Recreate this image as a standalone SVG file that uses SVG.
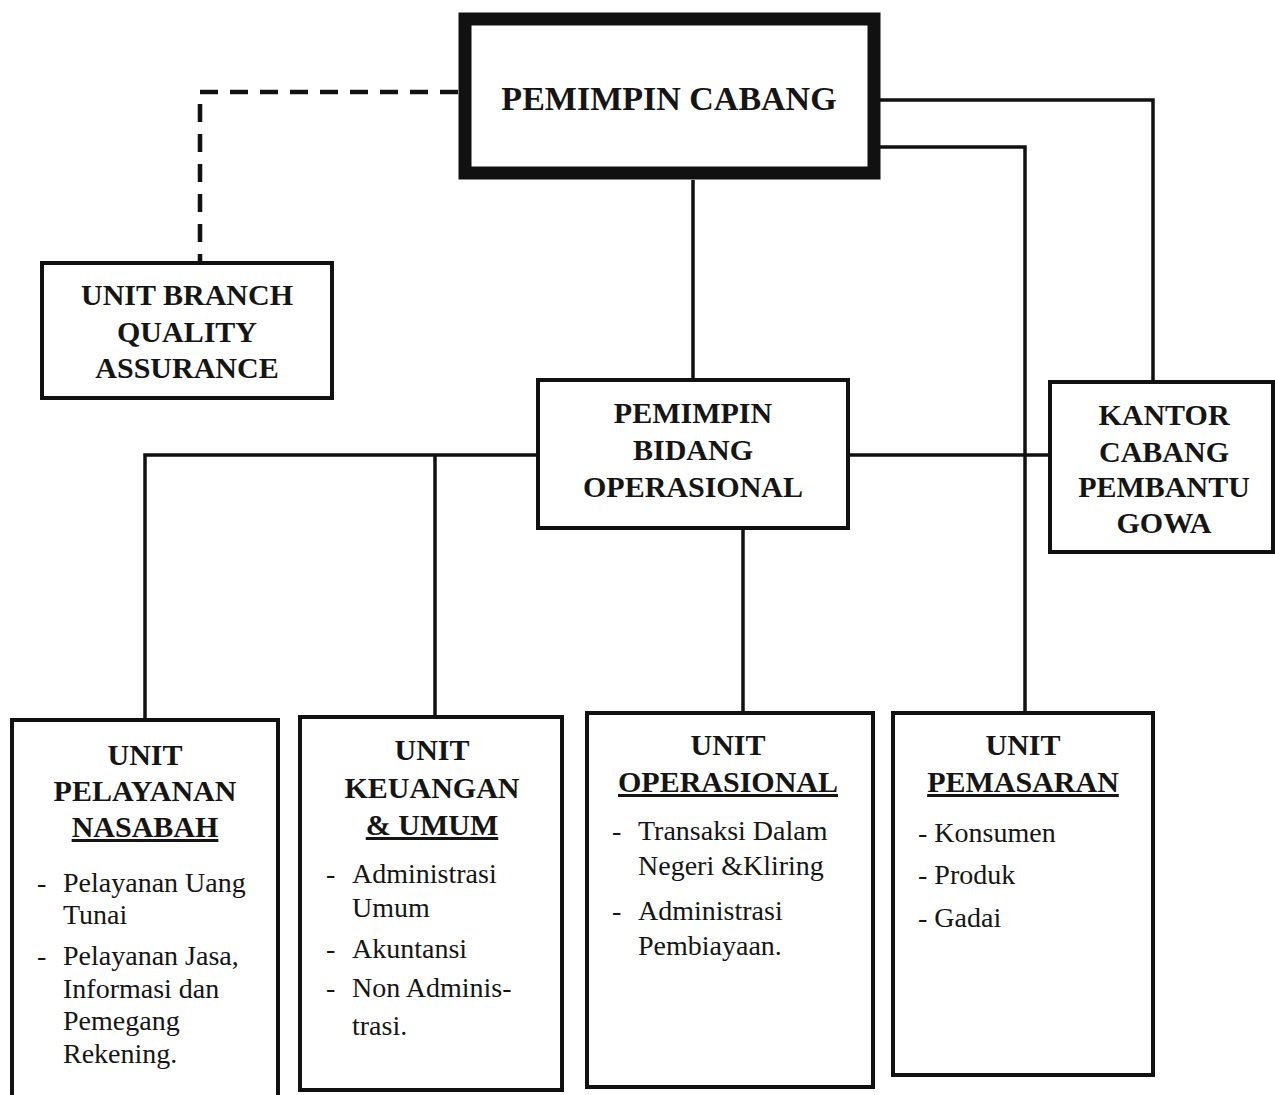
<svg xmlns="http://www.w3.org/2000/svg" width="1275" height="1095" viewBox="0 0 1275 1095">
<style>
.box{fill:#fff;stroke:#111;stroke-width:4}
.main{fill:#fff;stroke:#111;stroke-width:13}
.ln{fill:none;stroke:#111;stroke-width:3.5}
.dash{fill:none;stroke:#111;stroke-width:4.5;stroke-dasharray:18 12}
.t{font-family:"Liberation Serif","Times New Roman",serif;font-weight:bold;fill:#151515;text-anchor:middle;font-size:30px}
.big{font-size:34px}
.b{font-family:"Liberation Serif","Times New Roman",serif;fill:#151515;font-size:28px}
.u{text-decoration:underline}
</style>
<rect width="1275" height="1095" fill="#fff"/>
<g id="connectors">
<path class="dash" d="M458 92 H200 V262"/>
<path class="ln" d="M693 180 V380"/>
<path class="ln" d="M880 100 H1153 V382"/>
<path class="ln" d="M880 147 H1025 V713"/>
<path class="ln" d="M538 455 H145 V720"/>
<path class="ln" d="M435 455 V717"/>
<path class="ln" d="M848 455 H1050"/>
<path class="ln" d="M743 528 V713"/>
</g>
<g id="pemimpin-cabang">
<rect class="main" x="465" y="19" width="409" height="154"/>
<text class="t big" x="669" y="110">PEMIMPIN CABANG</text>
</g>
<g id="unit-branch-qa">
<rect class="box" x="42" y="263" width="290" height="135"/>
<text class="t" x="187" y="305">UNIT BRANCH</text>
<text class="t" x="187" y="342">QUALITY</text>
<text class="t" x="187" y="378">ASSURANCE</text>
</g>
<g id="pemimpin-bidang-operasional">
<rect class="box" x="538" y="380" width="310" height="148"/>
<text class="t" x="693" y="423">PEMIMPIN</text>
<text class="t" x="693" y="460">BIDANG</text>
<text class="t" x="693" y="497">OPERASIONAL</text>
</g>
<g id="kantor-cabang-pembantu">
<rect class="box" x="1050" y="382" width="223" height="170"/>
<text class="t" x="1164" y="425">KANTOR</text>
<text class="t" x="1164" y="462">CABANG</text>
<text class="t" x="1164" y="497">PEMBANTU</text>
<text class="t" x="1164" y="533">GOWA</text>
</g>
<g id="unit-pelayanan-nasabah">
<rect class="box" x="12" y="720" width="266" height="390"/>
<text class="t" x="145" y="765">UNIT</text>
<text class="t" x="145" y="801">PELAYANAN</text>
<text class="t u" x="145" y="837">NASABAH</text>
<text class="b" x="37" y="892">-</text>
<text class="b" x="63" y="892">Pelayanan Uang</text>
<text class="b" x="63" y="924">Tunai</text>
<text class="b" x="37" y="965">-</text>
<text class="b" x="63" y="965">Pelayanan Jasa,</text>
<text class="b" x="63" y="998">Informasi dan</text>
<text class="b" x="63" y="1030">Pemegang</text>
<text class="b" x="63" y="1063">Rekening.</text>
</g>
<g id="unit-keuangan-umum">
<rect class="box" x="300" y="717" width="262" height="373"/>
<text class="t" x="432" y="760">UNIT</text>
<text class="t" x="432" y="798">KEUANGAN</text>
<text class="t u" x="432" y="835">&amp; UMUM</text>
<text class="b" x="326" y="883">-</text>
<text class="b" x="352" y="883">Administrasi</text>
<text class="b" x="352" y="917">Umum</text>
<text class="b" x="326" y="958">-</text>
<text class="b" x="352" y="958">Akuntansi</text>
<text class="b" x="326" y="997">-</text>
<text class="b" x="352" y="997">Non Adminis-</text>
<text class="b" x="352" y="1035">trasi.</text>
</g>
<g id="unit-operasional">
<rect class="box" x="587" y="713" width="286" height="374"/>
<text class="t" x="728" y="755">UNIT</text>
<text class="t u" x="728" y="792">OPERASIONAL</text>
<text class="b" x="612" y="840">-</text>
<text class="b" x="638" y="840">Transaksi Dalam</text>
<text class="b" x="638" y="875">Negeri &amp;Kliring</text>
<text class="b" x="612" y="920">-</text>
<text class="b" x="638" y="920">Administrasi</text>
<text class="b" x="638" y="955">Pembiayaan.</text>
</g>
<g id="unit-pemasaran">
<rect class="box" x="893" y="713" width="260" height="362"/>
<text class="t" x="1023" y="755">UNIT</text>
<text class="t u" x="1023" y="792">PEMASARAN</text>
<text class="b" x="918" y="842">- Konsumen</text>
<text class="b" x="918" y="884">- Produk</text>
<text class="b" x="918" y="927">- Gadai</text>
</g>
</svg>
